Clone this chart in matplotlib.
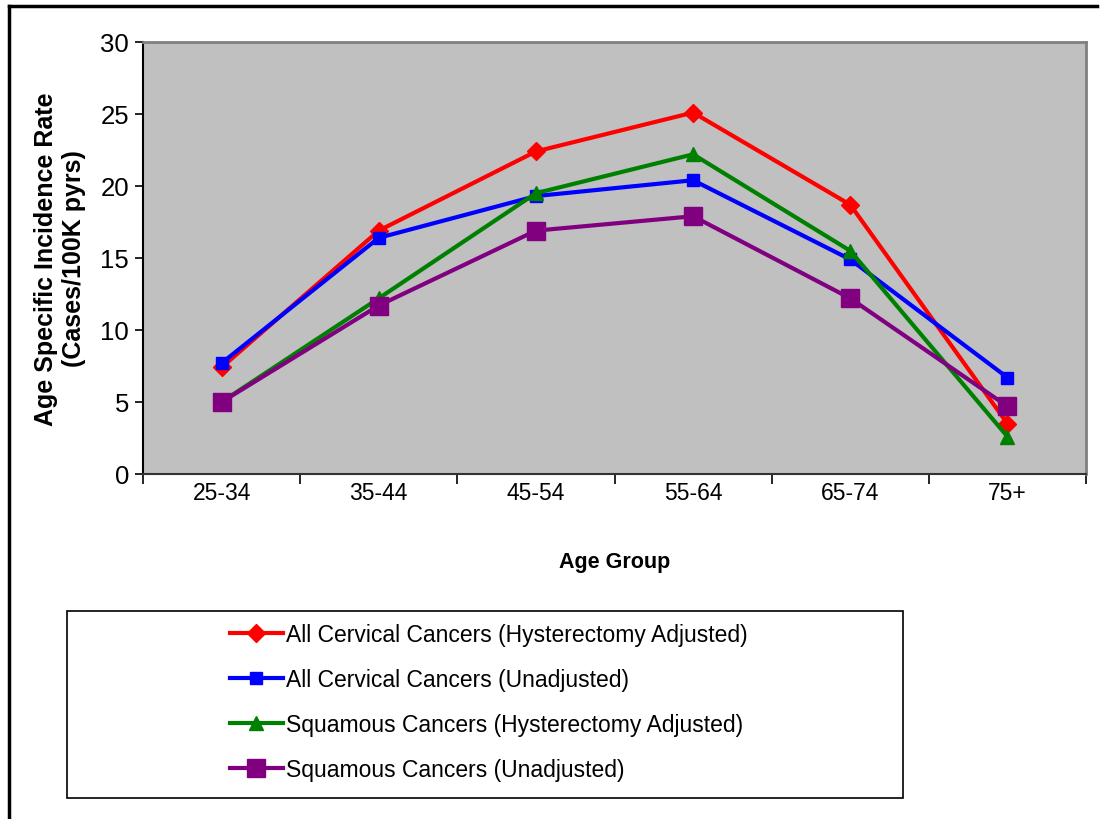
import matplotlib
matplotlib.use("Agg")
import matplotlib.pyplot as plt
from matplotlib.patches import Rectangle
from matplotlib.lines import Line2D

plt.rcParams['font.family'] = ['Liberation Sans', 'DejaVu Sans']

age_groups = ["25-34", "35-44", "45-54", "55-64", "65-74", "75+"]
all_adj = [7.4, 16.9, 22.4, 25.1, 18.7, 3.5]
all_unadj = [7.7, 16.4, 19.3, 20.4, 14.9, 6.7]
sq_adj = [5.0, 12.2, 19.5, 22.2, 15.5, 2.6]
sq_unadj = [5.0, 11.7, 16.9, 17.9, 12.2, 4.7]
labels = ["All Cervical Cancers (Hysterectomy Adjusted)",
          "All Cervical Cancers (Unadjusted)",
          "Squamous Cancers (Hysterectomy Adjusted)",
          "Squamous Cancers (Unadjusted)"]

W, H = 1101, 820
fig = plt.figure(figsize=(W / 100, H / 100), dpi=100)
ax = fig.add_axes([143 / W, 1 - 475 / H, (1086 - 143) / W, (475 - 43) / H])
ax.set_facecolor('#C0C0C0')

x = list(range(len(age_groups)))
series = [
    (all_adj, '#FF0000', 'D', 9),
    (all_unadj, '#0000FF', 's', 8.5),
    (sq_adj, '#008000', '^', 10),
    (sq_unadj, '#800080', 's', 12.5),
]
handles = []
for (vals, c, m, ms), lab in zip(series, labels):
    h, = ax.plot(x, vals, color=c, marker=m, markersize=ms, linewidth=3,
                 markeredgecolor=c, label=lab, clip_on=False)
    handles.append(h)

ax.set_xlim(-0.5, len(age_groups) - 0.5)
ax.set_ylim(0, 30)
ax.set_yticks(range(0, 31, 5))
ax.set_xticks(x)
ax.set_xticklabels(age_groups)
ax.set_xticks([i - 0.5 for i in range(len(age_groups) + 1)], minor=True)
ax.tick_params(axis='x', which='major', length=0, pad=5, labelsize=16.5)
ax.tick_params(axis='x', which='minor', length=7, width=1.2, color='#000000')
ax.tick_params(axis='y', length=6, width=1.2, pad=4, labelsize=18.5)

for s in ['top', 'right']:
    ax.spines[s].set_color('#808080')
    ax.spines[s].set_linewidth(2)
for s in ['left', 'bottom']:
    ax.spines[s].set_color('#000000')
    ax.spines[s].set_linewidth(1.5)
ax.spines['bottom'].set_color('#333333')

ax.set_xlabel("Age Group", fontsize=15.5, fontweight='bold', labelpad=34)
ax.set_ylabel("Age Specific Incidence Rate\n(Cases/100K pyrs)", fontsize=18,
              fontweight='bold', labelpad=10, linespacing=1.25)

# outer frame (top and left edges visible)
fig.add_artist(Line2D([9 / W, 1097 / W], [1 - 7 / H, 1 - 7 / H], color='black',
                      linewidth=2.5, transform=fig.transFigure))
fig.add_artist(Line2D([9 / W, 9 / W], [1 - 7 / H, 0], color='black',
                      linewidth=2.5, transform=fig.transFigure))

# legend box
fig.add_artist(Rectangle((67 / W, 1 - 799 / H), (903 - 67) / W, (799 - 612) / H,
                         transform=fig.transFigure, facecolor='white',
                         edgecolor='black', linewidth=1.2))
leg = fig.legend(handles=handles, labels=labels, loc='center',
                 bbox_to_anchor=(489 / W, 1 - 703 / H), frameon=False,
                 prop={'size': 16.5}, handlelength=2.3,
                 handletextpad=0.15, labelspacing=0.97)

fig.savefig("out.png", dpi=100)
